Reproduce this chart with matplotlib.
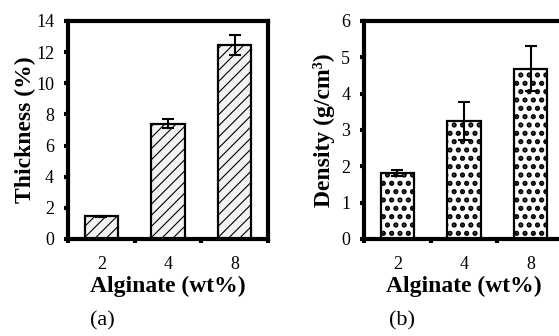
import matplotlib.pyplot as plt
import numpy as np

plt.rcParams['font.family'] = 'Liberation Serif'

categories = ['2', '4', '8']
thickness = [1.45, 7.4, 12.45]
thickness_err = [0.05, 0.3, 0.65]
density = [1.82, 3.25, 4.68]
density_err = [0.08, 0.53, 0.62]


def style_axes(ax, ymax, ystep):
    for sp in ax.spines.values():
        sp.set_linewidth(3)
    ax.set_xlim(-0.5, 2.5)
    ax.set_ylim(0, ymax)
    ax.set_yticks(np.arange(0, ymax + ystep / 2, ystep))
    ax.set_xticks(range(len(categories)))
    ax.set_xticklabels(categories)
    ax.set_xticks([-0.5, 0.5, 1.5, 2.5], minor=True)
    ax.tick_params(axis='x', which='major', length=0, labelsize=13, pad=12)
    ax.tick_params(axis='x', which='minor', direction='out', length=3, width=3)
    ax.tick_params(axis='y', direction='out', length=3, width=3, labelsize=13, pad=7)
    ax.set_xlabel('Alginate (wt%)', fontsize=17, fontweight='bold', labelpad=2)


def draw_bars(ax, values, errs, hatch, fill, hatch_lw, hatch_color):
    with plt.rc_context({'hatch.linewidth': hatch_lw, 'hatch.color': hatch_color}):
        bars = ax.bar(range(len(values)), values, width=0.5, color=fill,
                      edgecolor='black', linewidth=1.6, hatch=hatch, zorder=2)
        for b in bars:
            if hasattr(b, 'set_hatch_linewidth'):
                b.set_hatch_linewidth(hatch_lw)
    ax.errorbar(range(len(values)), values, yerr=errs, fmt='none', ecolor='black',
                elinewidth=1.5, capsize=4, capthick=1.5, zorder=3)


fig = plt.figure(figsize=(5.59, 3.36), dpi=100)

ax1 = fig.add_axes([0.1216, 0.2887, 0.3578, 0.649])
draw_bars(ax1, thickness, thickness_err, '///', '#f3f3f3', 0.8, '#555555')
style_axes(ax1, 14, 2)
ax1.set_ylabel('Thickness (%)', fontsize=17, fontweight='bold', labelpad=0)

ax2 = fig.add_axes([0.6512, 0.2887, 0.3578, 0.649])
draw_bars(ax2, density, density_err, '..', 'white', 2.5, 'black')
style_axes(ax2, 6, 1)
ax2.set_ylabel('Density (g/cm³)', fontsize=17, fontweight='bold', labelpad=4)

fig.text(0.184, 0.03, '(a)', fontsize=16, ha='center')
fig.text(0.719, 0.03, '(b)', fontsize=16, ha='center')

fig.savefig('out.png', dpi=100)
